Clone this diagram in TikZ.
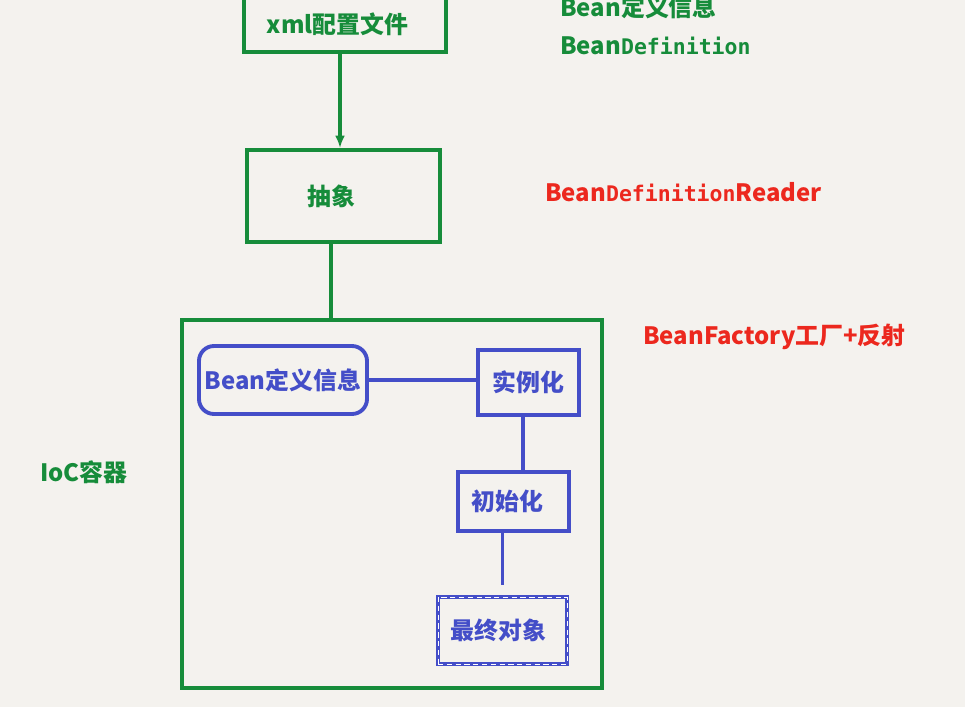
\documentclass[tikz,border=0pt]{standalone}
\usepackage{fontspec}
\setmainfont{Noto Sans CJK SC}
\newfontfamily\monofont[Scale=0.9]{DejaVu Sans Mono}
\usetikzlibrary{arrows.meta}
\definecolor{iocgreen}{RGB}{22,140,58}
\definecolor{beanblue}{RGB}{68,78,200}
\definecolor{readred}{RGB}{236,40,30}
\definecolor{paper}{RGB}{244,242,238}

\begin{document}
\begin{tikzpicture}[x=0.02cm,y=-0.02cm,
    txt/.style={font=\bfseries\fontsize{13.6}{16}\selectfont},
    gbox/.style={txt,draw=iocgreen,line width=2.2pt,text=iocgreen},
    bbox/.style={txt,draw=beanblue,line width=2.2pt,text=beanblue},
    gline/.style={draw=iocgreen,line width=2.2pt},
    bline/.style={draw=beanblue,line width=2.2pt},
    note/.style={txt,anchor=west,inner sep=0pt}]
        \fill[paper] (0,0) rectangle (965,707);
        \useasboundingbox (0,0) rectangle (965,707);
        % left column: file, reader, container
        \node[gbox,minimum width=4.04cm,minimum height=1.1cm] (xml) at (345,24.5) {xml配置文件\hspace*{0.3cm}};
        \node[gbox,minimum width=3.86cm,minimum height=1.84cm] (abs) at (343.5,196) {抽象\hspace*{0.5cm}};
        \node[gbox,minimum width=8.4cm,minimum height=7.36cm] (ioc) at (392,504) {};
        % inside the container
        \node[bbox,rounded corners=0.3cm,minimum width=3.36cm,minimum height=1.36cm] (bean) at (283,380) {Bean定义信息};
        \node[bbox,minimum width=2.02cm,minimum height=1.3cm] (shi) at (528.5,382.5) {实例化};
        \node[bbox,minimum width=2.22cm,minimum height=1.18cm] (chu) at (513.5,501.5) {初始化\hspace*{0.25cm}};
        \node[bbox,line width=1.8pt,minimum width=2.58cm,minimum height=1.34cm,
              postaction={draw=white,line width=0.5pt,dash pattern=on 3pt off 2pt}] (zui) at (502.5,630.5) {最终对象\hspace*{0.15cm}};
        % connectors
        \draw[gline,-{Latex[length=2.5mm,width=2mm]}] ([xshift=-0.1cm]xml.south) -- ([xshift=-0.1cm]xml.south |- abs.north);
        \draw[gline] ([xshift=-0.25cm]abs.south) -- ([xshift=-0.25cm]abs.south |- ioc.north);
        \draw[bline] (bean.east) -- (bean.east -| shi.west);
        \draw[bline] ([xshift=-0.11cm]shi.south) -- ([xshift=-0.11cm]shi.south |- chu.north);
        \draw[bline,shorten >=0.2cm] (zui.north |- chu.south) -- (zui.north);
        % notes
        \node[note,text=iocgreen] (def1) at (560,7) {Bean定义信息};
        \node[note,text=iocgreen] (def2) at (560,46) {Bean{\monofont Definition}};
        \node[note,text=readred] (reader) at (545,192) {Bean{\monofont Definition}Reader};
        \node[note,text=readred] (factory) at (643,337) {BeanFactory工厂+反射};
        \node[note,text=iocgreen] (ioclab) at (40,472) {IoC容器};
\end{tikzpicture}
\end{document}
